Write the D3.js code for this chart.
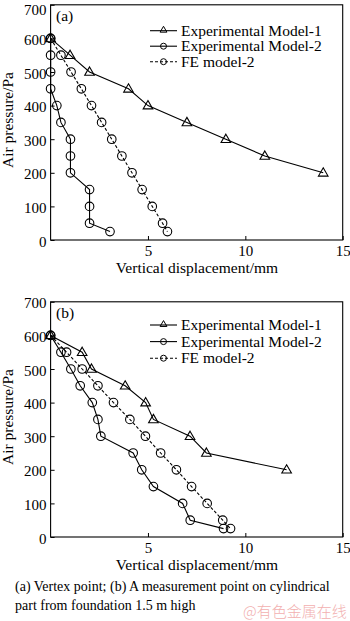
<!DOCTYPE html>
<html><head><meta charset="utf-8">
<script src="https://cdn.jsdelivr.net/npm/d3@7"></script>
<style>
html,body{margin:0;padding:0;background:#fff;}
svg{display:block;}
text{font-family:"Liberation Serif","Times New Roman",serif;fill:#000;}
</style></head>
<body>
<svg id="c" width="350" height="621"></svg>
<script>
// ---- Data ----
const seriesNames = ["Experimental Model-1", "Experimental Model-2", "FE model-2"];
const xTicks = [5, 10, 15];
const yTicks = [0, 100, 200, 300, 400, 500, 600, 700];

// Panel (a): vertex point
const aExp1X = [0, 1, 2, 4, 5, 7, 9, 11, 14];
const aExp1Y = [600, 550, 500, 450, 400, 350, 300, 250, 200];
const aExp2X = [0, 0, 0, 0, 0.32, 0.53, 1.02, 1.02, 1.02, 2, 2, 2, 3.05];
const aExp2Y = [600, 550, 500, 450, 400, 350, 300, 250, 200, 150, 100, 50, 25];
const aFeX = [0, 0.53, 1.05, 1.58, 2.1, 2.62, 3.14, 3.66, 4.18, 4.7, 5.22, 5.75, 6.0];
const aFeY = [600, 550, 500, 450, 400, 350, 300, 250, 200, 150, 100, 50, 25];

// Panel (b): measurement point on cylindrical part
const bExp1X = [0, 1.62, 2.1, 3.83, 4.88, 5.28, 7.16, 8.0, 12.12];
const bExp1Y = [600, 550, 500, 450, 400, 350, 300, 250, 200];
const bExp2X = [0, 0.53, 1.04, 1.52, 2.14, 2.43, 2.58, 4.24, 4.68, 5.28, 6.78, 7.17, 8.88];
const bExp2Y = [600, 550, 500, 450, 400, 350, 300, 250, 200, 150, 100, 50, 25];
const bFeX = [0, 0.82, 1.62, 2.43, 3.23, 4.07, 4.87, 5.65, 6.46, 7.24, 8.04, 8.84, 9.24];
const bFeY = [600, 550, 500, 450, 400, 350, 300, 250, 200, 150, 100, 50, 25];

const svg = d3.select("#c");
const zip = (xs, ys) => xs.map((x, i) => [x, ys[i]]);

function panel(cfg) {
  const x = d3.scaleLinear().domain([0, 15]).range([50.6, 342.7]);
  const y = d3.scaleLinear().domain([0, 700]).range([cfg.bottom, cfg.bottom - 235.2]);
  const g = svg.append("g");

  // frame
  g.append("rect").attr("x", x(0)).attr("y", y(700))
    .attr("width", x(15) - x(0)).attr("height", y(0) - y(700))
    .attr("fill", "none").attr("stroke", "#000").attr("stroke-width", 1.1);

  // axes with inward ticks
  const xa = g.append("g").attr("transform", `translate(0,${y(0)})`)
    .call(d3.axisBottom(x).tickValues(xTicks).tickSizeInner(-4).tickSizeOuter(0).tickPadding(8));
  const ya = g.append("g").attr("transform", `translate(${x(0)},0)`)
    .call(d3.axisLeft(y).tickValues(yTicks).tickSizeInner(-4).tickSizeOuter(0).tickPadding(4));
  [xa, ya].forEach(a => {
    a.select(".domain").remove();
    a.selectAll("text").style("font-family", "Liberation Serif").style("font-size", "15px").attr("fill", "#000");
    a.selectAll("line").attr("stroke", "#000");
  });
  xa.selectAll("text").attr("dy", "0.71em").attr("y", 5);
  ya.selectAll("text").attr("dy", d => (d === 700 && cfg.bottom < 300) ? "0.62em" : "0.4em");

  // titles
  g.append("text").attr("x", 197).attr("y", y(0) + 33).attr("text-anchor", "middle")
    .style("font-size", "15.5px").text("Vertical displacement/mm");
  g.append("text").attr("transform", `translate(13,${cfg.bottom - 120}) rotate(-90)`)
    .attr("text-anchor", "middle").style("font-size", "15.5px").text("Air pressure/Pa");
  g.append("text").attr("x", 56).attr("y", y(700) + 16).style("font-size", "15.5px").text(cfg.label);

  const line = d3.line().x(d => x(d[0])).y(d => y(d[1]));
  const tri = d3.symbol().type(d3.symbolTriangle).size(40);

  const series = [
    {pts: zip(cfg.e1x, cfg.e1y), dash: null, m: "tri"},
    {pts: zip(cfg.e2x, cfg.e2y), dash: null, m: "circ"},
    {pts: zip(cfg.fex, cfg.fey), dash: "3,2", m: "circ"}
  ];
  series.forEach(s => {
    g.append("path").attr("d", line(s.pts)).attr("fill", "none").attr("stroke", "#000")
      .attr("stroke-width", 1.1).attr("stroke-dasharray", s.dash);
    if (s.m === "circ") {
      g.selectAll(null).data(s.pts).enter().append("circle")
        .attr("cx", d => x(d[0])).attr("cy", d => y(d[1])).attr("r", 4.3)
        .attr("fill", "none").attr("stroke", "#000").attr("stroke-width", 1.1);
    } else {
      g.selectAll(null).data(s.pts).enter().append("path").attr("d", tri)
        .attr("transform", d => `translate(${x(d[0])},${y(d[1]) + 0.5})`)
        .attr("fill", "none").attr("stroke", "#000").attr("stroke-width", 1.1);
    }
  });

  // legend
  seriesNames.forEach((name, i) => {
    const cy = cfg.legTop + i * cfg.legStep;
    const s = series[i];
    g.append("line").attr("x1", 150).attr("x2", 177).attr("y1", cy).attr("y2", cy)
      .attr("stroke", "#000").attr("stroke-width", 1.1).attr("stroke-dasharray", s.dash);
    if (s.m === "circ") {
      g.append("circle").attr("cx", 163.5).attr("cy", cy).attr("r", 3)
        .attr("fill", "none").attr("stroke", "#000");
    } else {
      g.append("path").attr("d", d3.symbol().type(d3.symbolTriangle).size(20)())
        .attr("transform", `translate(163.5,${cy - 0.5})`).attr("fill", "none").attr("stroke", "#000");
    }
    g.append("text").attr("x", 181).attr("y", cy + 5).style("font-size", "15.5px").text(name);
  });
}

panel({bottom: 240, label: "(a)", e1x: aExp1X, e1y: aExp1Y, e2x: aExp2X, e2y: aExp2Y, fex: aFeX, fey: aFeY, legTop: 30.7, legStep: 15.5});
panel({bottom: 537, label: "(b)", e1x: bExp1X, e1y: bExp1Y, e2x: bExp2X, e2y: bExp2Y, fex: bFeX, fey: bFeY, legTop: 325, legStep: 16.6});

// caption
svg.append("text").attr("x", 15).attr("y", 591).style("font-size", "14px")
  .text("(a) Vertex point; (b) A measurement point on cylindrical");
svg.append("text").attr("x", 15).attr("y", 610).style("font-size", "14px")
  .text("part from foundation 1.5 m high");
svg.append("text").attr("x", 243).attr("y", 617)
  .style("font-family", "Noto Sans CJK SC").style("font-size", "15px").style("font-weight", "300")
  .attr("fill", "#f2b0b0").style("fill", "#f2b0b0")
  .text("@有色金属在线");
</script>
</body></html>
